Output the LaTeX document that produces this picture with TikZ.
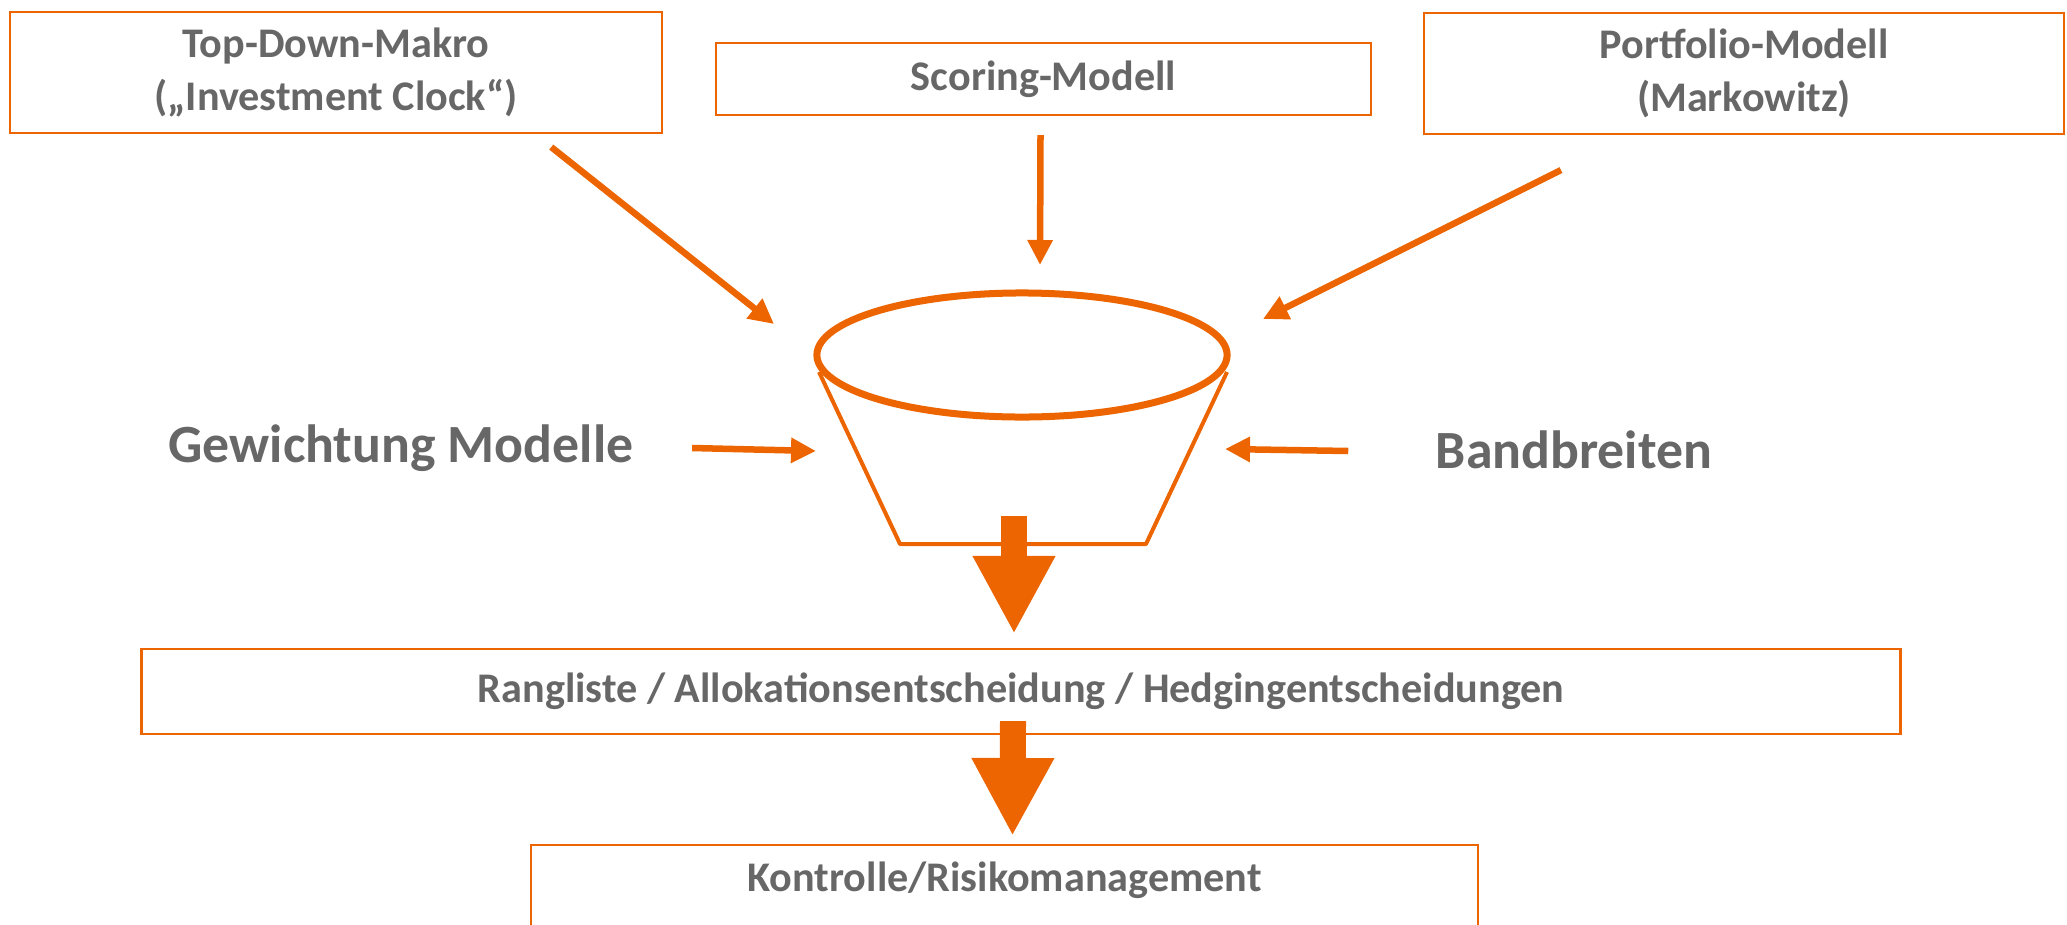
\documentclass[tikz,border=0pt]{standalone}
\usepackage{fontspec}
\setmainfont{Carlito}
\usepackage{tikz}
\usetikzlibrary{shapes,arrows.meta,calc}
\definecolor{orng}{RGB}{236,101,0}
\definecolor{txtgray}{RGB}{103,103,103}

\begin{document}
\begin{tikzpicture}[x=0.01cm, y=-0.01cm,
 every node/.style={text=txtgray, font=\bfseries\fontsize{12}{15}\selectfont, align=center},
 box/.style={rectangle, draw=orng, line width=0.6pt, inner sep=0pt},
 str/.style={rectangle, inner sep=0pt},
 big/.style={rectangle, inner sep=0pt, font=\bfseries\fontsize{15.3}{18}\selectfont},
 arrow/.style={-{Triangle[width=0.24cm, length=0.25cm]}, draw=orng, line width=0.065cm},
 bigarrow/.style={-{Triangle[width=0.77cm, length=0.78cm]}, draw=orng, line width=0.26cm},
 funnel/.style={draw=orng, line width=0.04cm, line join=round}]

\useasboundingbox (0, 0) rectangle (2067, 924);
\clip (0, 0) rectangle (2067, 924);

% the three models
\node[box, minimum width=6.52cm, minimum height=1.21cm] (td) at (336, 72.5) {Top-Down-Makro\\(„Investment Clock“)};
\node[box, minimum width=6.55cm, minimum height=0.72cm] (sc) at (1043.5, 79) {Scoring-Modell};
\node[box, minimum width=6.40cm, minimum height=1.21cm] (pf) at (1744, 73.5) {Portfolio-Modell\\(Markowitz)};

\node[big] (gew) at (401, 448) {Gewichtung Modelle};
\node[big] (band) at (1574, 450) {Bandbreiten};

% funnel
\node[ellipse, draw=orng, line width=0.07cm, minimum width=4.1cm, minimum height=1.24cm, inner sep=0pt, outer sep=0pt] (bowl) at (1022, 355) {};
\draw[funnel] ($(bowl.center)+(-203,17)$) -- ($(bowl.center)+(-122,189)$) -- ($(bowl.center)+(124,189)$) -- ($(bowl.center)+(205,17)$);

\draw ($(td.south east)+(-112,13)$) edge[arrow] ($(bowl.center)+(-248,-31)$);
\draw ($(sc.south)+(-3,19)$) edge[arrow] ($(bowl.center)+(18,-90)$);
\draw ($(pf.south)+(-183,35)$) edge[arrow] ($(bowl.center)+(241,-36)$);
\draw ($(gew.east)+(58,0)$) edge[arrow] ($(bowl.center)+(-206,96)$);
\draw ($(band.west)+(-87,1)$) edge[arrow] ($(bowl.center)+(203,94)$);

\node[box, minimum width=17.58cm, minimum height=0.85cm] (rang) at (1021, 691.5) {Rangliste / Allokationsentscheidung / Hedgingentscheidungen};
\node[box, anchor=north, minimum width=9.47cm, text height=0.46cm, text depth=1.2cm] (ctrl) at (1004.5, 844) {Kontrolle/Risikomanagement};

\draw ($(bowl.center)+(-8,161)$) edge[bigarrow] ($(rang.north)+(-7,-14)$);
\draw ($(rang.south)+(-8,-14)$) edge[bigarrow] ($(ctrl.north)+(8,-8)$);

\end{tikzpicture}
\end{document}
